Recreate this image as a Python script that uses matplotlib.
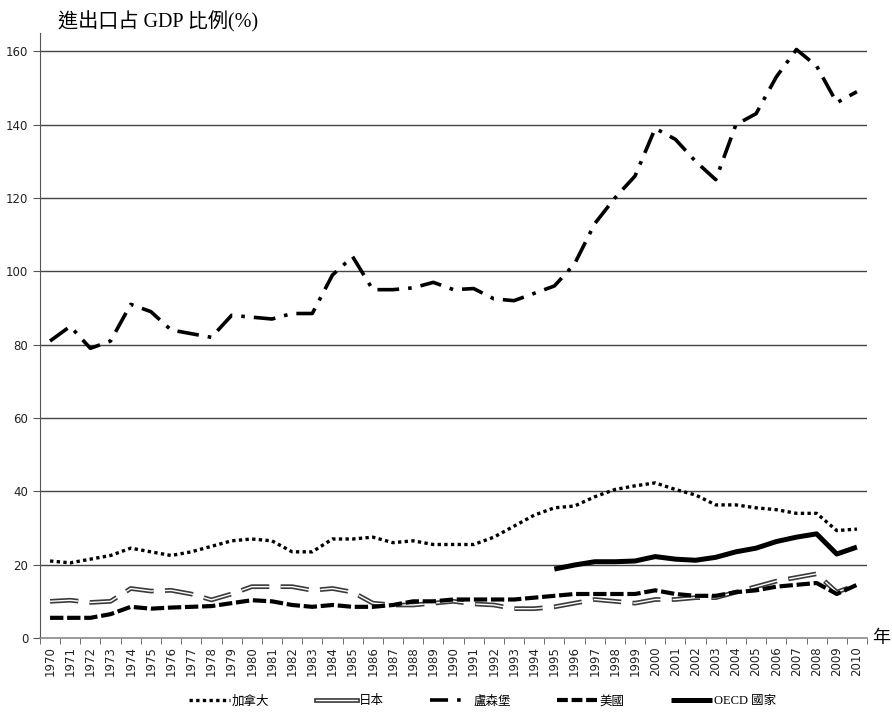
import numpy as np
import matplotlib
matplotlib.use('Agg')
import matplotlib.pyplot as plt
from matplotlib.lines import Line2D

years = list(range(1970, 2011))

canada = [21, 20.5, 21.5, 22.5, 24.5, 23.5, 22.5, 23.5, 25, 26.5, 27, 26.5, 23.5, 23.5, 27, 27,
          27.5, 26, 26.5, 25.5, 25.5, 25.5, 27.5, 30.5, 33.5, 35.5, 36, 38.5, 40.5, 41.5, 42.3,
          40.5, 39, 36.3, 36.3, 35.5, 35, 34, 34, 29.3, 29.7]
japan = [10, 10.3, 9.7, 10, 13.5, 12.8, 13, 12, 10.4, 12, 14, 14, 14, 13, 13.5, 12.5,
         9.5, 9, 9, 9.5, 10, 9.3, 9, 8, 8, 8.5, 9.5, 10.5, 10, 9.5, 10.5, 10.5, 11, 11,
         12.5, 14, 15.5, 16.5, 17.5, 12.5, 14.5]
luxembourg = [81, 85, 79, 81, 91, 89, 84, 83, 82, 88, 87.5, 87, 88.5, 88.5, 99, 104,
              95, 95, 95.5, 97, 95, 95.3, 92.5, 92, 94, 96, 102, 113, 120, 126, 139,
              136, 130, 125, 140, 143, 153, 160.5, 156, 146, 149]
usa = [5.5, 5.5, 5.5, 6.5, 8.5, 8, 8.3, 8.5, 8.7, 9.5, 10.3, 10, 9, 8.5, 9, 8.5,
       8.5, 9, 10, 10, 10.5, 10.5, 10.5, 10.5, 11, 11.5, 12, 12, 12, 12, 13, 12,
       11.5, 11.5, 12.5, 13, 14, 14.5, 15, 12, 14.5]
oecd_years = list(range(1995, 2011))
oecd = [18.8, 19.9, 20.8, 20.8, 21, 22.2, 21.5, 21.2, 22, 23.5, 24.5, 26.3, 27.5, 28.4, 22.9, 24.8]

labels = ['加拿大', '日本', '盧森堡', '美國', 'OECD 國家']

cjk = ['Liberation Serif', 'Noto Sans CJK TC', 'DejaVu Sans']

fig = plt.figure(figsize=(8.92, 7.13), dpi=100)
ax = fig.add_axes([0.0448, 0.1052, 0.9272, 0.8485])

x = np.arange(len(years))
xo = np.array([years.index(y) for y in oecd_years])

ax.plot(x, canada, color='black', lw=2.4, ls=(0, (1, 1)), dash_capstyle='butt', zorder=3)
ax.plot(x, japan, color='#3a3a3a', lw=3.4, ls=(0, (6, 2.4)), zorder=3)
ax.plot(x, japan, color='white', lw=1.0, ls=(0, (20.4, 8.2)), zorder=3)
ax.plot(x, luxembourg, color='black', lw=2.6, ls=(0, (6, 2.5, 1, 2.5)), zorder=3)
ax.plot(x, usa, color='black', lw=3.0, ls=(0, (3.2, 0.9)), zorder=3)
ax.plot(xo, oecd, color='black', lw=3.6, solid_capstyle='butt', zorder=4)

ax.set_xlim(-0.5, len(years) - 0.5)
ax.set_ylim(0, 165)
ax.set_yticks(range(0, 161, 20))
ax.set_xticks(x)
ax.set_xticklabels([str(y) for y in years], rotation=90, fontsize=8.5, color='#222')
ax.set_xticks(np.arange(-0.5, len(years), 1), minor=True)
ax.tick_params(axis='x', which='major', length=0, pad=6)
ax.tick_params(axis='x', which='minor', length=4, direction='out', color='#555')
ax.tick_params(axis='y', length=5, direction='out', labelsize=8.5, color='#555', labelcolor='#222')

for v in range(20, 161, 20):
    ax.axhline(v, color='#444', lw=1.0, zorder=1)

for s in ['top', 'right']:
    ax.spines[s].set_visible(False)
ax.spines['left'].set_color('#555')
ax.spines['bottom'].set_color('#888')
ax.spines['bottom'].set_linewidth(1.2)

fig.text(0.065, 0.955, '進出口占 GDP 比例(%)', fontsize=14.5, family=cjk, ha='left', va='bottom')
fig.text(0.978, 0.105, '年', fontsize=13, family=cjk, ha='left', va='center')

# legend handles (short patterns so each sample reads cleanly)
h_can = Line2D([], [], color='black', lw=2.4, ls=(0, (1, 1)), dash_capstyle='butt')
h_jp1 = Line2D([], [], color='#3a3a3a', lw=3.4)
h_jp2 = Line2D([], [], color='white', lw=1.0)
h_lux = Line2D([], [], color='black', lw=2.6, ls=(0, (5, 2.5, 1, 8)))
h_us = Line2D([], [], color='black', lw=3.0, ls=(0, (2.6, 0.9)))
h_oecd = Line2D([], [], color='black', lw=3.6, solid_capstyle='butt')

handles = [h_can, (h_jp1, h_jp2), h_lux, h_us, h_oecd]
fig.legend(handles, labels, loc='lower center', bbox_to_anchor=(0.541, -0.008), ncol=5,
           frameon=False, handlelength=3.3, handletextpad=0.15, columnspacing=3.7,
           prop={'family': cjk, 'size': 9})

plt.savefig('out.png', dpi=100)
plt.close()
